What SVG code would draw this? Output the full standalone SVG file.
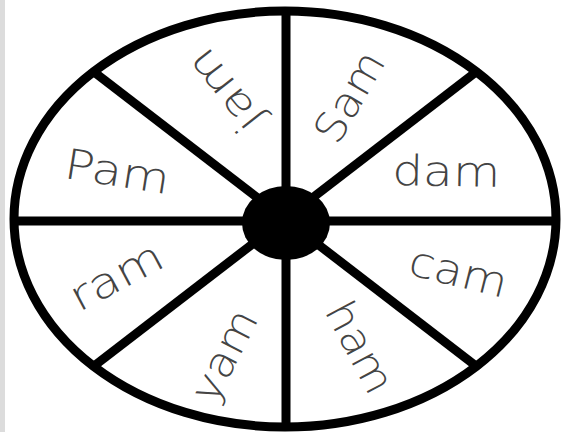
<svg xmlns="http://www.w3.org/2000/svg" width="563" height="432" viewBox="0 0 563 432">
<style>
.lbl{font-family:"DejaVu Sans","Liberation Sans",sans-serif;font-size:42px;font-weight:200;fill:#444;text-anchor:middle}
.ln{stroke:#000;stroke-width:9;fill:none}
</style>
<rect width="563" height="432" fill="#fff"/>
<rect x="0" y="0" width="5" height="432" fill="#dcdcdc"/>
<g id="wheel">
<ellipse cx="285" cy="219" rx="271" ry="208" fill="#fff" stroke="#000" stroke-width="9"/>
</g>
<g id="connectors">
<line class="ln" x1="286" y1="11" x2="286" y2="427"/>
<line class="ln" x1="14" y1="221" x2="556" y2="221" stroke-width="8"/>
<line class="ln" x1="94" y1="72" x2="476" y2="366" stroke-width="10"/>
<line class="ln" x1="476" y1="72" x2="94" y2="366" stroke-width="10"/>
</g>
<g id="hub"><ellipse cx="286" cy="223" rx="44" ry="37" fill="#000"/></g>
<g id="jam"><text class="lbl" transform="translate(236,82) rotate(232)" textLength="94" lengthAdjust="spacingAndGlyphs">jam</text></g>
<g id="Sam"><text class="lbl" transform="translate(362,104) rotate(-60)" textLength="98" lengthAdjust="spacingAndGlyphs">Sam</text></g>
<g id="Pam"><text class="lbl" transform="translate(115,186) rotate(9)" textLength="106" lengthAdjust="spacingAndGlyphs">Pam</text></g>
<g id="dam"><text class="lbl" transform="translate(446,186) rotate(1)" textLength="108" lengthAdjust="spacingAndGlyphs">dam</text></g>
<g id="ram"><text class="lbl" transform="translate(123,289) rotate(-28)" textLength="100" lengthAdjust="spacingAndGlyphs">ram</text></g>
<g id="cam"><text class="lbl" transform="translate(455,286) rotate(14)" textLength="100" lengthAdjust="spacingAndGlyphs">cam</text></g>
<g id="yam"><text class="lbl" transform="translate(237,362) rotate(-63)" textLength="98" lengthAdjust="spacingAndGlyphs">yam</text></g>
<g id="ham"><text class="lbl" transform="translate(347,354) rotate(62)" textLength="98" lengthAdjust="spacingAndGlyphs">ham</text></g>
</svg>
